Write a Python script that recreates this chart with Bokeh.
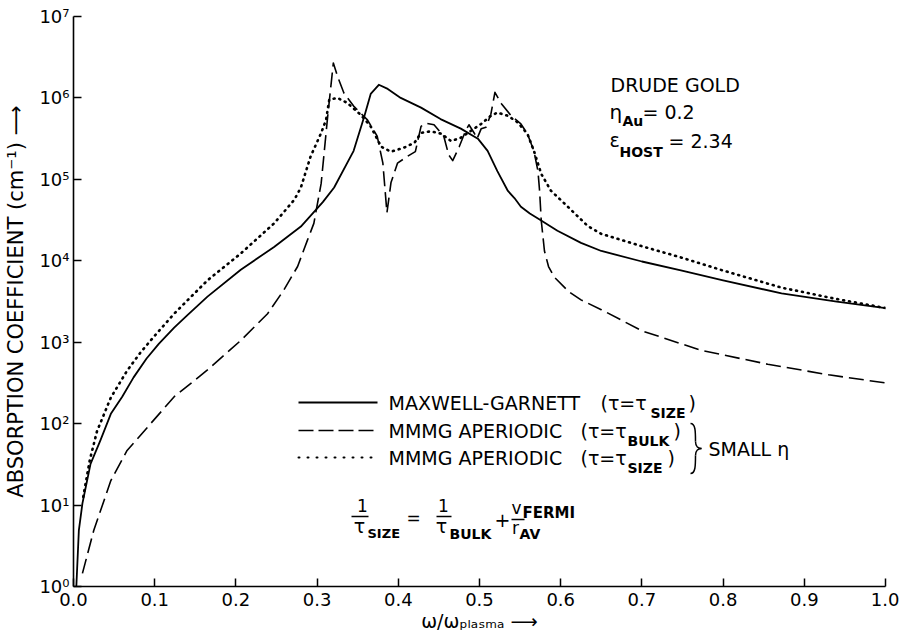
from bokeh.plotting import figure
from bokeh.models import Range1d, FixedTicker, Label, NumeralTickFormatter
from bokeh.embed import file_html
from bokeh.resources import INLINE

FONT = "DejaVu Sans"

# ---------------- data ----------------
omega_mg = [0.0035, 0.0066, 0.011, 0.021, 0.033, 0.046, 0.06, 0.074, 0.09, 0.105,
            0.124, 0.14, 0.165, 0.206, 0.247, 0.28, 0.307, 0.321, 0.345, 0.358,
            0.366, 0.376, 0.387, 0.403, 0.428, 0.452, 0.477, 0.498, 0.51, 0.522,
            0.535, 0.543, 0.551, 0.562, 0.572, 0.596, 0.625, 0.65, 0.7, 0.748, 0.8,
            0.872, 0.94, 1.0]
alpha_mg = [1.0, 4.9, 10.5, 32, 62, 132, 214, 370, 631, 955,
            1510, 2140, 3630, 7760, 14800, 26300, 52500, 79400, 2.24e5, 5.89e5,
            1.12e6, 1.45e6, 1.29e6, 1.0e6, 7.6e5, 5.5e5, 4.2e5, 3.16e5, 2.24e5, 1.26e5,
            7.2e4, 5.9e4, 4.6e4, 3.8e4, 3.3e4, 2.34e4, 1.66e4, 1.32e4, 9.8e3, 7.6e3, 5.75e3,
            3.98e3, 3.16e3, 2.63e3]

omega_bulk = [0.011, 0.025, 0.046, 0.066, 0.095, 0.124, 0.165, 0.206, 0.239, 0.259,
              0.276, 0.288, 0.296, 0.305, 0.313, 0.32, 0.325, 0.333, 0.345, 0.362,
              0.374, 0.381, 0.386, 0.391, 0.399, 0.411, 0.421, 0.428, 0.434, 0.444,
              0.456, 0.462, 0.467, 0.475, 0.483, 0.487, 0.494, 0.497, 0.502, 0.508,
              0.514, 0.519, 0.527, 0.539, 0.551, 0.559, 0.567, 0.572, 0.574, 0.576,
              0.58, 0.585, 0.592, 0.61, 0.625, 0.65, 0.7, 0.773, 0.855, 0.93, 1.0]
alpha_bulk = [1.45, 4.9, 20, 46.8, 100, 214, 457, 1050, 2240, 4370,
              8510, 17800, 28800, 89100, 5.89e5, 2.69e6, 1.86e6, 1.15e6, 7.94e5, 5.37e5,
              3.39e5, 1.58e5, 3.89e4, 9.12e4, 1.58e5, 1.91e5, 2.19e5, 4.47e5, 4.9e5, 4.68e5,
              3.39e5, 2.0e5, 1.7e5, 2.51e5, 3.98e5, 4.68e5, 3.63e5, 3.16e5, 4.17e5, 4.37e5,
              6.31e5, 1.17e6, 8.51e5, 6.03e5, 4.79e5, 3.63e5, 2.24e5, 1.26e5, 7.24e4, 3.16e4,
              1.32e4, 8.5e3, 6310, 4170, 3310, 2510, 1380, 794, 537, 398, 316]

omega_size = [0.012, 0.02, 0.029, 0.046, 0.066, 0.083, 0.1, 0.124, 0.165, 0.206,
              0.247, 0.272, 0.28, 0.292, 0.305, 0.311, 0.315, 0.325, 0.337, 0.354,
              0.366, 0.379, 0.391, 0.407, 0.42, 0.428, 0.44, 0.453, 0.465, 0.477,
              0.49, 0.502, 0.514, 0.522, 0.535, 0.547, 0.559, 0.567, 0.576, 0.588,
              0.605, 0.633, 0.65, 0.7, 0.748, 0.8, 0.872, 0.94, 1.0]
alpha_size = [12.6, 35.5, 81, 209, 447, 759, 1200, 2240, 5750, 12300,
              28800, 56200, 79400, 1.91e5, 3.72e5, 5.37e5, 9.55e5, 1.0e6, 8.71e5, 6.17e5,
              4.47e5, 2.51e5, 2.19e5, 2.45e5, 2.82e5, 3.72e5, 3.89e5, 3.63e5, 2.95e5, 3.24e5,
              3.98e5, 4.79e5, 6.03e5, 6.61e5, 6.03e5, 5.01e5, 3.63e5, 2.24e5, 1.17e5, 7.24e4,
              5.01e4, 2.69e4, 2.14e4, 1.51e4, 1.10e4, 7.59e3, 4.68e3, 3.39e3, 2.63e3]

x_ticks = [0.0, 0.1, 0.2, 0.3, 0.4, 0.5, 0.6, 0.7, 0.8, 0.9, 1.0]
y_ticks = [1.0, 10.0, 100.0, 1000.0, 1e4, 1e5, 1e6, 1e7]
y_tick_labels = ["10⁰", "10¹", "10²", "10³", "10⁴", "10⁵", "10⁶", "10⁷"]

legend_names = ["MAXWELL-GARNETT", "MMMG APERIODIC", "MMMG APERIODIC"]
legend_taus = ["SIZE", "BULK", "SIZE"]

# ---------------- layout ----------------
W, H = 899, 637
FL, FR, FT, FB = 73, 885, 16, 586
X0, X1 = 0.0, 1.0
Y0, Y1 = 1.0, 1e7
DECADES = 7

p = figure(width=W, height=H, x_range=Range1d(X0, X1), y_range=Range1d(Y0, Y1),
           y_axis_type="log", output_backend="svg", toolbar_location=None,
           min_border_left=FL, min_border_right=W - FR,
           min_border_top=FT, min_border_bottom=H - FB)
p.outline_line_color = None
p.xgrid.visible = False
p.ygrid.visible = False
p.background_fill_color = "white"
p.border_fill_color = "white"

for ax in (p.xaxis[0], p.yaxis[0]):
    ax.axis_line_color = "black"
    ax.axis_line_width = 1.6
    ax.major_tick_in = 8
    ax.major_tick_out = 0
    ax.major_tick_line_width = 1.5
    ax.major_tick_line_color = "black"
    ax.minor_tick_line_color = None
    ax.major_label_text_font = FONT
    ax.major_label_text_font_size = "18px"
    ax.major_label_text_color = "black"
    ax.axis_label_text_font = FONT
    ax.axis_label_text_font_style = "normal"
    ax.axis_label_text_color = "black"

p.xaxis.ticker = FixedTicker(ticks=x_ticks)
p.xaxis.formatter = NumeralTickFormatter(format="0.0")
p.xaxis.major_label_standoff = 6
p.xaxis.axis_label = "ω/ωₚₗₐₛₘₐ ⟶"
p.xaxis.axis_label_text_font_size = "19px"
p.xaxis.axis_label_standoff = 1

p.yaxis.ticker = FixedTicker(ticks=y_ticks)
p.yaxis.major_label_overrides = dict(zip(y_ticks, y_tick_labels))
p.yaxis.major_label_standoff = 4
p.yaxis.axis_label = "ABSORPTION COEFFICIENT (cm⁻¹) ⟶"
p.yaxis.axis_label_text_font_size = "21px"
p.yaxis.axis_label_standoff = 8

# ---------------- curves ----------------
p.line(omega_mg, alpha_mg, line_color="black", line_width=1.8, line_join="round")
p.line(omega_bulk, alpha_bulk, line_color="black", line_width=1.6, line_dash="15 6",
       line_join="round")
p.line(omega_size, alpha_size, line_color="black", line_width=2.6, line_dash="1 5",
       line_cap="round", line_join="round")


# ---------------- helpers for annotations (page pixel -> data / screen) ----------------
def dx(px):
    return X0 + (px - FL) / (FR - FL) * (X1 - X0)


def dy(py):
    return 10 ** ((FB - py) / (FB - FT) * DECADES)


def put(text, px, py, size=19, align="left", style="normal"):
    p.add_layout(Label(x=px - FL, y=FB - py, x_units="screen", y_units="screen",
                       text=text, text_font=FONT, text_font_size=f"{size}px",
                       text_align=align, text_baseline="middle",
                       text_font_style=style, text_color="black"))


# info block
put("DRUDE GOLD", 610, 84)
put("η", 609, 111, 20)
put("Au", 622, 120, 14, style="bold")
put("= 0.2", 642, 111)
put("ε", 609, 139)
put("HOST", 619, 151, 14, style="bold")
put("= 2.34", 668, 140)

# legend
rows_y = [402, 430, 457]
paren_x = [600, 580, 580]
sub_x = [650, 627, 627]
close_x = [688, 673, 667]
styles = [dict(line_width=1.8),
          dict(line_width=1.6, line_dash="15 5"),
          dict(line_width=2.0, line_dash="1 8", line_cap="round")]
for i in range(3):
    y = rows_y[i]
    p.segment(x0=[dx(298)], y0=[dy(y)], x1=[dx(377)], y1=[dy(y)],
              line_color="black", **styles[i])
    put(legend_names[i], 388, y)
    put("(τ=τ", paren_x[i], y)
    put(legend_taus[i], sub_x[i], y + 10, 14, style="bold")
    put(")", close_x[i], y)

# brace and SMALL eta
p.bezier(x0=[dx(690), dx(695), dx(701), dx(695)],
         y0=[dy(423), dy(441), dy(448), dy(455)],
         x1=[dx(695), dx(701), dx(695), dx(690)],
         y1=[dy(441), dy(448), dy(455), dy(473)],
         cx0=[dx(695), dx(695), dx(698), dx(695)],
         cy0=[dy(423), dy(446), dy(448), dy(465)],
         cx1=[dx(695), dx(698), dx(695), dx(695)],
         cy1=[dy(431), dy(448), dy(450), dy(473)],
         line_color="black", line_width=1.5)
put("SMALL η", 708, 448)

# formula 1/tau_SIZE = 1/tau_BULK + v_FERMI / r_AV
put("1", 362, 505, 17, align="center")
put("τ", 359, 525, 19, align="center")
put("SIZE", 367, 533, 13, style="bold")
put("=", 413, 517, 17, align="center")
put("1", 443, 505, 17, align="center")
put("τ", 441, 525, 19, align="center")
put("BULK", 449, 533, 14, style="bold")
put("+", 502, 519, 19, align="center")
put("v", 516, 507, 17, align="center")
put("FERMI", 522, 512, 15, style="bold")
put("r", 515, 527, 17, align="center")
put("AV", 519, 533, 14, style="bold")
p.segment(x0=[dx(351), dx(436), dx(511)], y0=[dy(516), dy(516), dy(519)],
          x1=[dx(368), dx(451), dx(524)], y1=[dy(516), dy(516), dy(519)],
          line_color="black", line_width=1.5)

open("out.html", "w").write(file_html(p, INLINE))
